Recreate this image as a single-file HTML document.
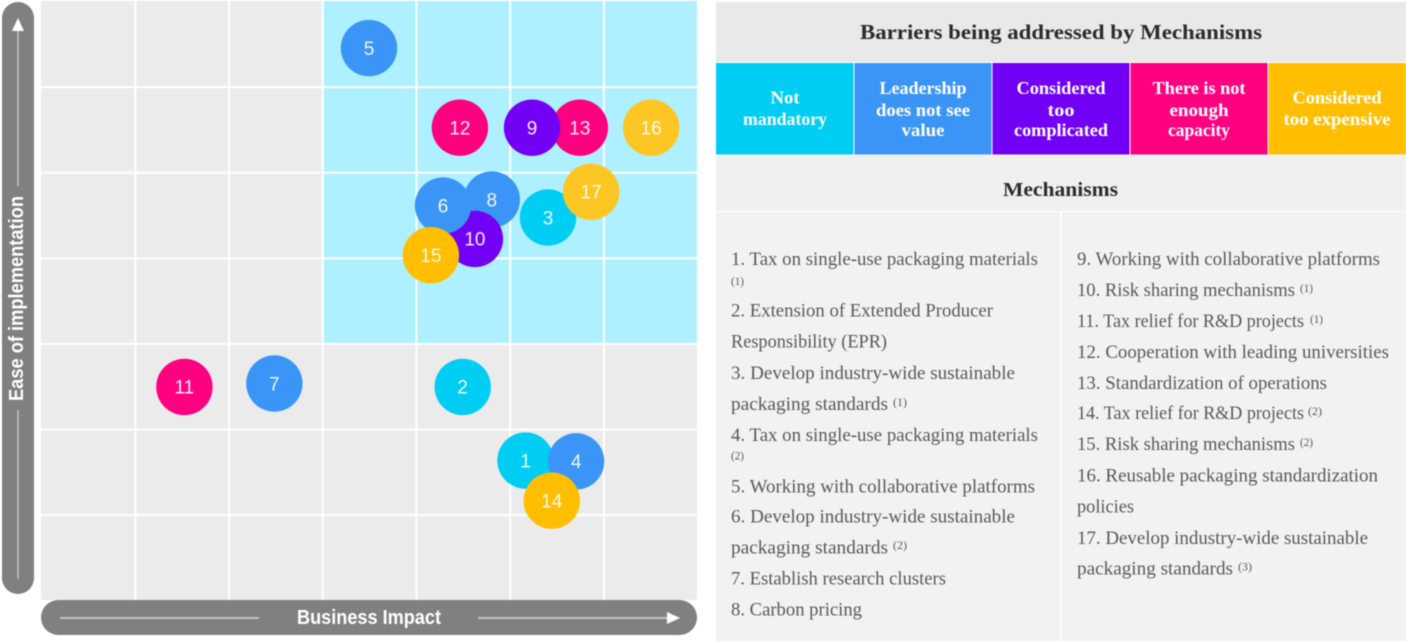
<!DOCTYPE html>
<html lang="en">
<head>
<meta charset="utf-8">
<title>Barriers and Mechanisms Matrix</title>
<style>
html,body{margin:0;padding:0;background:#fff;width:1406px;height:642px;overflow:hidden}
svg{display:block;position:absolute;left:0;top:0;filter:blur(.55px)}
.axis-label{font-family:"Liberation Sans Narrow","Liberation Sans",sans-serif;font-weight:700;font-size:20px;fill:#fff}
.serif{font-family:"Liberation Serif",serif}
.item{font-size:19px;fill:#595959}
.sup{font-size:12px;fill:#595959}
.cell-text{font-size:18px;font-weight:700;fill:#fff;text-anchor:middle}
.head{font-weight:700;fill:#2b2b2b;text-anchor:middle}
.bubble-label{font-family:"Liberation Sans",sans-serif;font-size:19px;fill:#fff;fill-opacity:.92;text-anchor:middle}
</style>
</head>
<body>
<svg id="page" xmlns="http://www.w3.org/2000/svg" width="1406" height="642" viewBox="0 0 1406 642">
  <g id="plot"></g>

  <g>
    <rect x="2" y="2" width="32" height="592" rx="16" fill="#808080"/>
    <line x1="18" y1="30" x2="18" y2="186" stroke="#c4c4c4" stroke-width="1.5"/>
    <polygon points="18,18 24,31 12,31" fill="#fff"/>
    <line x1="18" y1="410" x2="18" y2="579" stroke="#c4c4c4" stroke-width="1.5"/>
    <text class="axis-label" transform="translate(23,401) rotate(-90)" textLength="205" lengthAdjust="spacingAndGlyphs">Ease of implementation</text>
  </g>
  <g>
    <rect x="41" y="600" width="656" height="35" rx="17.5" fill="#808080"/>
    <line x1="60" y1="618" x2="259" y2="618" stroke="#c4c4c4" stroke-width="2"/>
    <line x1="478" y1="618" x2="668" y2="618" stroke="#c4c4c4" stroke-width="2"/>
    <polygon points="680,618 667,612 667,624" fill="#fff"/>
    <text class="axis-label" x="297" y="624" textLength="144" lengthAdjust="spacingAndGlyphs">Business Impact</text>
  </g>

  <g>
    <rect x="716" y="2" width="690" height="60" fill="#e9e9e9"/>
    <text class="serif head" x="1061" y="39" font-size="21" textLength="402" lengthAdjust="spacingAndGlyphs">Barriers being addressed by Mechanisms</text>

    <g>
      <rect x="716" y="63" width="137.5" height="91.5" fill="#00cdf3"/>
      <text class="serif cell-text" x="785" y="103.5" textLength="29" lengthAdjust="spacingAndGlyphs">Not</text>
      <text class="serif cell-text" x="785" y="125" textLength="84" lengthAdjust="spacingAndGlyphs">mandatory</text>
    </g>
    <g>
      <rect x="854.5" y="63" width="137" height="91.5" fill="#3b95f6"/>
      <text class="serif cell-text" x="923" y="94" textLength="87" lengthAdjust="spacingAndGlyphs">Leadership</text>
      <text class="serif cell-text" x="923" y="116" textLength="94" lengthAdjust="spacingAndGlyphs">does not see</text>
      <text class="serif cell-text" x="923" y="136" textLength="43" lengthAdjust="spacingAndGlyphs">value</text>
    </g>
    <g>
      <rect x="992.5" y="63" width="137" height="91.5" fill="#7200f5"/>
      <text class="serif cell-text" x="1061" y="94" textLength="89" lengthAdjust="spacingAndGlyphs">Considered</text>
      <text class="serif cell-text" x="1061" y="116" textLength="27" lengthAdjust="spacingAndGlyphs">too</text>
      <text class="serif cell-text" x="1061" y="136" textLength="94" lengthAdjust="spacingAndGlyphs">complicated</text>
    </g>
    <g>
      <rect x="1130.5" y="63" width="137" height="91.5" fill="#ff0080"/>
      <text class="serif cell-text" x="1199" y="94" textLength="93" lengthAdjust="spacingAndGlyphs">There is not</text>
      <text class="serif cell-text" x="1199" y="116" textLength="59" lengthAdjust="spacingAndGlyphs">enough</text>
      <text class="serif cell-text" x="1199" y="136" textLength="62" lengthAdjust="spacingAndGlyphs">capacity</text>
    </g>
    <g>
      <rect x="1268.5" y="63" width="137.5" height="91.5" fill="#ffbf00"/>
      <text class="serif cell-text" x="1337" y="103.5" textLength="89" lengthAdjust="spacingAndGlyphs">Considered</text>
      <text class="serif cell-text" x="1337" y="125" textLength="107" lengthAdjust="spacingAndGlyphs">too expensive</text>
    </g>
  </g>

  <g>
    <rect x="716" y="155" width="690" height="56" fill="#f0f0f0"/>
    <text class="serif head" x="1060.5" y="196" font-size="20" textLength="115" lengthAdjust="spacingAndGlyphs">Mechanisms</text>
    <rect x="716" y="212" width="344" height="429" fill="#f2f2f2"/>
    <rect x="1062" y="212" width="344" height="429" fill="#f2f2f2"/>

    <g>
      <text class="serif item" x="731" y="265" textLength="307" lengthAdjust="spacingAndGlyphs">1. Tax on single-use packaging materials</text>
      <text class="serif sup" x="731" y="285" textLength="13" lengthAdjust="spacingAndGlyphs">(1)</text>
    </g>
    <g>
      <text class="serif item" x="731" y="316.7" textLength="262" lengthAdjust="spacingAndGlyphs">2. Extension of Extended Producer</text>
      <text class="serif item" x="731" y="347.5" textLength="156" lengthAdjust="spacingAndGlyphs">Responsibility (EPR)</text>
    </g>
    <g>
      <text class="serif item" x="731" y="379" textLength="284" lengthAdjust="spacingAndGlyphs">3. Develop industry-wide sustainable</text>
      <text class="serif item" x="731" y="410" textLength="157" lengthAdjust="spacingAndGlyphs">packaging standards</text>
      <text class="serif sup" x="893" y="406" textLength="14" lengthAdjust="spacingAndGlyphs">(1)</text>
    </g>
    <g>
      <text class="serif item" x="731" y="441" textLength="307" lengthAdjust="spacingAndGlyphs">4. Tax on single-use packaging materials</text>
      <text class="serif sup" x="731" y="459.5" textLength="13" lengthAdjust="spacingAndGlyphs">(2)</text>
    </g>
    <g>
      <text class="serif item" x="731" y="492.7" textLength="304" lengthAdjust="spacingAndGlyphs">5. Working with collaborative platforms</text>
    </g>
    <g>
      <text class="serif item" x="731" y="522.7" textLength="284" lengthAdjust="spacingAndGlyphs">6. Develop industry-wide sustainable</text>
      <text class="serif item" x="731" y="553.5" textLength="157" lengthAdjust="spacingAndGlyphs">packaging standards</text>
      <text class="serif sup" x="893" y="549" textLength="14" lengthAdjust="spacingAndGlyphs">(2)</text>
    </g>
    <g>
      <text class="serif item" x="731" y="584.5" textLength="215" lengthAdjust="spacingAndGlyphs">7. Establish research clusters</text>
    </g>
    <g>
      <text class="serif item" x="731" y="615.7" textLength="131" lengthAdjust="spacingAndGlyphs">8. Carbon pricing</text>
    </g>

    <g>
      <text class="serif item" x="1077" y="265" textLength="303" lengthAdjust="spacingAndGlyphs">9. Working with collaborative platforms</text>
    </g>
    <g>
      <text class="serif item" x="1077" y="296" textLength="218" lengthAdjust="spacingAndGlyphs">10. Risk sharing mechanisms</text>
      <text class="serif sup" x="1300" y="292" textLength="13" lengthAdjust="spacingAndGlyphs">(1)</text>
    </g>
    <g>
      <text class="serif item" x="1077" y="327" textLength="227" lengthAdjust="spacingAndGlyphs">11. Tax relief for R&amp;D projects</text>
      <text class="serif sup" x="1310" y="323" textLength="13" lengthAdjust="spacingAndGlyphs">(1)</text>
    </g>
    <g>
      <text class="serif item" x="1077" y="358" textLength="312" lengthAdjust="spacingAndGlyphs">12. Cooperation with leading universities</text>
    </g>
    <g>
      <text class="serif item" x="1077" y="389" textLength="250" lengthAdjust="spacingAndGlyphs">13. Standardization of operations</text>
    </g>
    <g>
      <text class="serif item" x="1077" y="419" textLength="227" lengthAdjust="spacingAndGlyphs">14. Tax relief for R&amp;D projects</text>
      <text class="serif sup" x="1308" y="415" textLength="14" lengthAdjust="spacingAndGlyphs">(2)</text>
    </g>
    <g>
      <text class="serif item" x="1077" y="450" textLength="218" lengthAdjust="spacingAndGlyphs">15. Risk sharing mechanisms</text>
      <text class="serif sup" x="1300" y="446" textLength="13" lengthAdjust="spacingAndGlyphs">(2)</text>
    </g>
    <g>
      <text class="serif item" x="1077" y="481.7" textLength="301" lengthAdjust="spacingAndGlyphs">16. Reusable packaging standardization</text>
      <text class="serif item" x="1077" y="512.7" textLength="57" lengthAdjust="spacingAndGlyphs">policies</text>
    </g>
    <g>
      <text class="serif item" x="1077" y="544" textLength="291" lengthAdjust="spacingAndGlyphs">17. Develop industry-wide sustainable</text>
      <text class="serif item" x="1077" y="574.5" textLength="156" lengthAdjust="spacingAndGlyphs">packaging standards</text>
      <text class="serif sup" x="1238" y="570.5" textLength="14" lengthAdjust="spacingAndGlyphs">(3)</text>
    </g>
  </g>
</svg>

<script>
// Mechanism data, listed in paint order (later entries sit on top)
const mechanismIds = [5, 12, 13, 9, 16, 8, 10, 6, 15, 3, 17, 11, 7, 2, 1, 4, 14];
const businessImpact = [3.50, 4.47, 5.75, 5.24, 6.51, 4.81, 4.63, 4.29, 4.16, 5.41, 5.87, 1.53, 2.49, 4.50, 5.17, 5.71, 5.45];
const easeOfImplementation = [6.45, 5.52, 5.52, 5.52, 5.52, 4.68, 4.22, 4.61, 4.03, 4.47, 4.77, 2.49, 2.53, 2.49, 1.63, 1.62, 1.16];
const barrierIndex = [1, 3, 3, 2, 4, 1, 2, 1, 4, 0, 4, 3, 1, 0, 0, 1, 4];
const barrierNames = ["Not mandatory", "Leadership does not see value", "Considered too complicated", "There is not enough capacity", "Considered too expensive"];
const barrierColors = ["#00cdf3", "#3b95f6", "#7200f5", "#ff0080", "#ffbf00"];
const paleToneIds = [16, 17];
const gridDivisions = [1, 2, 3, 4, 5, 6];
const axisMaximum = [7];
const priorityStart = [3];

const NS = "http://www.w3.org/2000/svg";
const plot = document.getElementById("plot");
const plotLeft = 41, plotRight = 697, plotTop = 1, plotBottom = 600, bubbleRadius = 28.2;
const paleYellow = "#fdc622";
const gridNudge = 0.6;
function xScale(v) { return plotLeft + v / axisMaximum[0] * (plotRight - plotLeft); }
function yScale(v) { return plotBottom - v / axisMaximum[0] * (plotBottom - plotTop); }
function make(tag, attrs) {
  const el = document.createElementNS(NS, tag);
  for (const k in attrs) el.setAttribute(k, attrs[k]);
  return el;
}

const background = make("rect", { x: plotLeft, y: plotTop, width: plotRight - plotLeft, height: plotBottom - plotTop, fill: "#ebebeb" });


plot.appendChild(background);

const zone = make("rect", {
  x: xScale(priorityStart[0]), y: plotTop,
  width: plotRight - xScale(priorityStart[0]),
  height: yScale(priorityStart[0]) - plotTop + gridNudge,
  fill: "#aef0ff"
});


plot.appendChild(zone);

gridDivisions.forEach(function (d) {
  const vx = xScale(d) + gridNudge;
  const hy = yScale(d) + gridNudge;
  const v = make("line", { x1: vx, x2: vx, y1: plotTop, y2: plotBottom, stroke: "#fff", "stroke-width": 2 });
  
  
  plot.appendChild(v);
  const h = make("line", { x1: plotLeft, x2: plotRight, y1: hy, y2: hy, stroke: "#fff", "stroke-width": 2 });
  
  
  plot.appendChild(h);
});

mechanismIds.forEach(function (id, i) {
  const g = make("g", {});
  
  
  const title = make("title", {});
  title.textContent = "Mechanism " + id + ": " + barrierNames[barrierIndex[i]];
  g.appendChild(title);
  const cx = xScale(businessImpact[i]);
  const cy = yScale(easeOfImplementation[i]);
  const fill = paleToneIds.indexOf(id) >= 0 ? paleYellow : barrierColors[barrierIndex[i]];
  const c = make("circle", { cx: cx, cy: cy, r: bubbleRadius, fill: fill });
  
  
  g.appendChild(c);
  const t = make("text", { x: cx, y: cy + 6.8, class: "bubble-label" });
  
  
  t.textContent = id;
  g.appendChild(t);
  plot.appendChild(g);
});
</script>
</body>
</html>
